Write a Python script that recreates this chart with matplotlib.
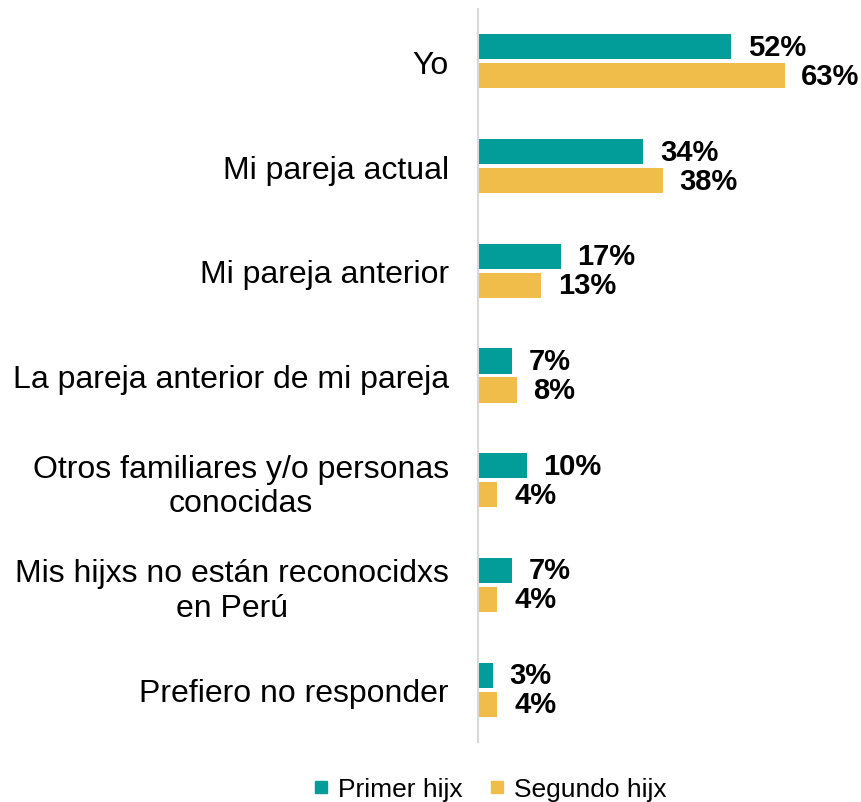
import matplotlib.pyplot as plt
from matplotlib.lines import Line2D
import numpy as np

plt.rcParams['font.family'] = ['Liberation Sans', 'DejaVu Sans']

categories = ['Yo', 'Mi pareja actual', 'Mi pareja anterior',
              'La pareja anterior de mi pareja',
              'Otros familiares y/o personas\nconocidas',
              'Mis hijxs no están reconocidxs\nen Perú',
              'Prefiero no responder']
primer = [52, 34, 17, 7, 10, 7, 3]
segundo = [63, 38, 13, 8, 4, 4, 4]
series_names = ['Primer hijx', 'Segundo hijx']

teal = '#029D99'
yellow = '#F0BD4B'

fig = plt.figure(figsize=(8.61, 8.03), dpi=100)
ax = fig.add_axes([478/861, 1 - 743/803, 1 - 478/861, (743 - 10)/803])

y = np.arange(len(categories))
h = 0.24
off = 0.138
ax.barh(y - off, primer, height=h, color=teal)
ax.barh(y + off, segundo, height=h, color=yellow)

for yi, v in zip(y - off, primer):
    ax.annotate(f'{v}%', (v, yi), xytext=(12, 0), textcoords='offset points',
                va='center', ha='left', fontsize=21, fontweight='bold')
for yi, v in zip(y + off, segundo):
    ax.annotate(f'{v}%', (v, yi), xytext=(12, 0), textcoords='offset points',
                va='center', ha='left', fontsize=21, fontweight='bold')

ax.set_xlim(0, 78.7)
ax.set_ylim(len(categories) - 0.5, -0.5)
ax.set_yticks(y)
ax.set_yticklabels(categories, fontsize=23, multialignment='center')
ax.tick_params(axis='y', length=0, pad=21)
ax.set_xticks([])
for s in ['top', 'right', 'bottom']:
    ax.spines[s].set_visible(False)
ax.spines['left'].set_color('#D9D9D9')
ax.spines['left'].set_linewidth(1.5)

handles = [Line2D([], [], marker='s', linestyle='none', markersize=9, color=teal),
           Line2D([], [], marker='s', linestyle='none', markersize=9, color=yellow)]
fig.legend(handles, series_names, loc='center', bbox_to_anchor=(490/861, 1 - 790/803),
           ncol=2, frameon=False, fontsize=19, handlelength=0.6, handletextpad=0.35,
           columnspacing=1.0)

fig.savefig('out.png', dpi=100)
